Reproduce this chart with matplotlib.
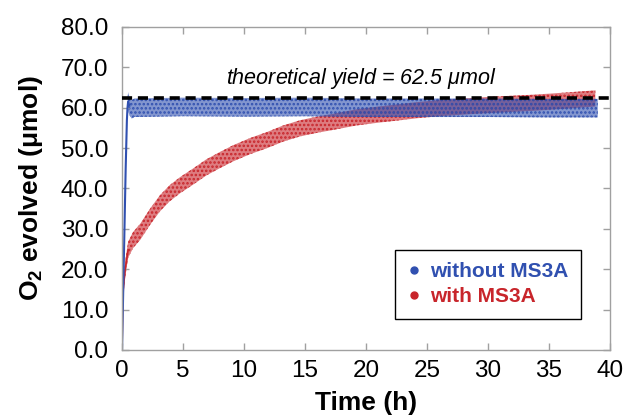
import numpy as np
import matplotlib
matplotlib.use("Agg")
import matplotlib.pyplot as plt
from matplotlib.lines import Line2D

plt.rcParams['font.family'] = ['Liberation Sans', 'DejaVu Sans']
plt.rcParams['mathtext.fontset'] = 'custom'
plt.rcParams['mathtext.rm'] = 'Liberation Sans'
plt.rcParams['mathtext.bf'] = 'Liberation Sans:bold'
plt.rcParams['mathtext.it'] = 'Liberation Sans:italic'
plt.rcParams['hatch.linewidth'] = 1.2

# O2 evolution, without MS3A (fast) and with MS3A (slow)
t_without = [0, 0.1, 0.2, 0.3, 0.4, 0.45, 0.5, 0.6, 0.8, 1.0, 3, 5, 10, 15, 20, 25, 30, 35, 39]
o2_without = [0, 15, 30, 45, 57, 60, 61.5, 60.5, 59.6, 60.0, 60.1, 60.2, 60.1, 60.2, 60.0, 60.0, 60.0, 59.9, 59.9]
spread_without = 2.3

t_with = [0, 0.05, 0.1, 0.25, 0.5, 0.9, 1.5, 2.3, 3.1, 3.9, 4.75, 5.8, 6.9, 8, 9.1, 10.5,
          11.9, 13.2, 14.6, 16, 17.3, 19.2, 21, 22.5, 24.2, 26, 28, 29.6, 31.5, 33.5, 35.1, 37, 38.8]
o2_with = [0, 10, 15, 19.8, 24.8, 27.2, 29.3, 33, 36.3, 38.8, 40.8, 42.9, 45.2, 47, 48.7, 50.5,
           52, 53.6, 54.9, 55.8, 56.5, 57.6, 58.3, 58.8, 59.4, 59.9, 60.3, 60.6, 60.9, 61.2, 61.5, 61.9, 62.3]
spread_with = 2.0

theoretical = 62.5

blue = '#3050b0'
red = '#c8252b'

fig = plt.figure(figsize=(6.28, 4.17), dpi=100)
ax = fig.add_axes([0.1943, 0.1607, 0.777, 0.7746])

tw = np.array(t_with)
yw = np.array(o2_with)
ax.fill_between(tw, yw - spread_with, yw + spread_with, facecolor=(*matplotlib.colors.to_rgb(red), 0.6),
                edgecolor=red, hatch='....', linewidth=0)
ax.plot(tw[:5], yw[:5], color=red, lw=1.2)

tb = np.array(t_without)
yb = np.array(o2_without)
ax.fill_between(tb, yb - spread_without, yb + spread_without, where=tb >= 0.45,
                facecolor=(*matplotlib.colors.to_rgb(blue), 0.6), edgecolor=blue,
                hatch='....', linewidth=0)
ax.plot(tb[:8], yb[:8], color=blue, lw=1.5)

ax.plot([0, 40], [theoretical, theoretical], color='black', lw=2.6,
        linestyle=(0, (2.8, 1.6)), zorder=5)
ax.text(19.6, 67.2, r'theoretical yield = 62.5 $\mu$mol', style='italic',
        fontsize=15.5, ha='center', va='center')

ax.set_xlim(0, 40)
ax.set_ylim(0, 80)
ax.set_xticks(np.arange(0, 41, 5))
ax.set_yticks(np.arange(0, 81, 10))
ax.set_yticklabels([f'{v:.1f}' for v in np.arange(0, 81, 10)])
ax.tick_params(direction='in', length=5, width=1, color='#a0a0a0',
               top=True, right=True, labelsize=17.5)
ax.tick_params(axis='y', pad=10)
ax.tick_params(axis='x', pad=7)
for s in ax.spines.values():
    s.set_color('#a0a0a0')
    s.set_linewidth(1)

ax.set_xlabel('Time (h)', fontsize=19, fontweight='bold', labelpad=7)
ax.set_ylabel(r'O$_\mathbf{2}$ evolved ($\mathbf{\mu}$mol)', fontsize=19, fontweight='bold', labelpad=11)

handles = [Line2D([], [], ls='none', marker='o', ms=5, color=blue),
           Line2D([], [], ls='none', marker='o', ms=5, color=red)]
leg = ax.legend(handles, ['without MS3A', 'with MS3A'], loc='lower right',
                bbox_to_anchor=(0.941, 0.096), borderaxespad=0, fancybox=False,
                edgecolor='black', framealpha=1, handlelength=0.6, handletextpad=0.5,
                prop={'weight': 'bold', 'size': 15}, labelspacing=0.3, borderpad=0.6)
leg.get_frame().set_linewidth(1)
for txt, c in zip(leg.get_texts(), [blue, red]):
    txt.set_color(c)

fig.savefig('out.png', dpi=100)
